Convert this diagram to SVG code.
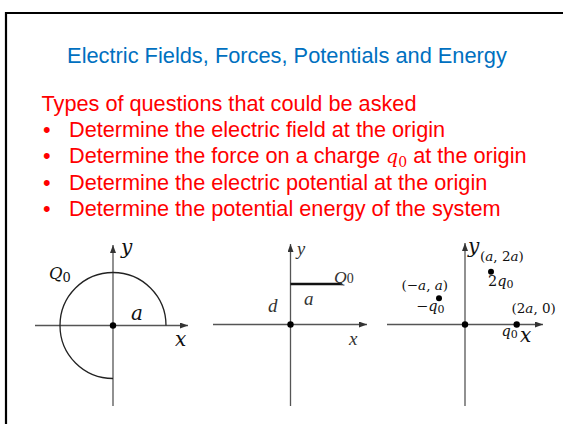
<svg xmlns="http://www.w3.org/2000/svg" width="563" height="424" viewBox="0 0 563 424">
<style>
.axis{stroke:#555;stroke-width:1.3;fill:none}
.curve{stroke:#222;stroke-width:1.3;fill:none}
.dot{fill:#000}
.title{font-family:"Liberation Sans",Arial,sans-serif;font-size:21.8px;fill:#0070C0}
.body{font-family:"Liberation Sans",Arial,sans-serif;font-size:21.7px;fill:#FF0000}
.m{font-family:"DejaVu Serif","Liberation Serif",serif;font-style:italic;fill:#111}
.m2{font-family:"Liberation Serif","Times New Roman",serif;font-style:italic;fill:#333}
.sub{font-style:normal}
</style>
<defs>
<marker id="arr" viewBox="0 0 8 6" refX="8" refY="3" markerWidth="8" markerHeight="6" markerUnits="userSpaceOnUse" orient="auto">
<path d="M0,0 L8,3 L0,6 Z" fill="#333"/>
</marker>
</defs>
<rect width="563" height="424" fill="#fff"/>
<path d="M6,430 V13 H570" fill="none" stroke="#000" stroke-width="2.2"/>
<g id="title"><text class="title" x="287" y="63" text-anchor="middle">Electric Fields, Forces, Potentials and Energy</text></g>
<g id="questions">
<text class="body" x="41.5" y="110.5">Types of questions that could be asked</text>
<text class="body" x="43" y="137">•</text>
<text class="body" x="69" y="137">Determine the electric field at the origin</text>
<text class="body" x="43" y="163.3">•</text>
<text class="body" x="69" y="163.3">Determine the force on a charge <tspan font-family="DejaVu Serif,serif" font-style="italic" font-size="19">q</tspan><tspan font-family="DejaVu Serif,serif" font-size="14" dy="4">0</tspan><tspan dy="-4"> at the origin</tspan></text>
<text class="body" x="43" y="189.6">•</text>
<text class="body" x="69" y="189.6">Determine the electric potential at the origin</text>
<text class="body" x="43" y="216">•</text>
<text class="body" x="69" y="216">Determine the potential energy of the system</text>
</g>
<g id="connectors">
<line class="axis" x1="35" y1="325.5" x2="188" y2="325.5" marker-end="url(#arr)"/>
<line class="axis" x1="113" y1="406" x2="113" y2="245" marker-end="url(#arr)"/>
<line class="axis" x1="213" y1="324.5" x2="367" y2="324.5" marker-end="url(#arr)"/>
<line class="axis" x1="290.5" y1="406" x2="290.5" y2="244" marker-end="url(#arr)"/>
<line class="axis" x1="387" y1="324.5" x2="543" y2="324.5" marker-end="url(#arr)"/>
<line class="axis" x1="465" y1="406" x2="465" y2="243" marker-end="url(#arr)"/>
</g>
<g id="fig1">
<path class="curve" d="M166,325.5 A53,53 0 1 0 113,378.5"/>
<circle class="dot" cx="113" cy="325.5" r="3.2"/>
<text class="m" x="121" y="254" font-size="20">y</text>
<text class="m" x="49" y="279" font-size="16.5">Q<tspan class="sub" font-size="13" dy="3">0</tspan></text>
<text class="m" x="131" y="320" font-size="20">a</text>
<text class="m" x="175" y="346" font-size="20">x</text>
</g>
<g id="fig2">
<line x1="290.5" y1="284" x2="342" y2="284" stroke="#111" stroke-width="2.4"/>
<circle class="dot" cx="290.5" cy="324.5" r="3.2"/>
<text class="m2" x="297" y="255" font-size="18.5">y</text>
<text class="m2" x="334" y="283" font-size="17.5">Q<tspan class="sub" font-size="14">0</tspan></text>
<text class="m2" x="304" y="305" font-size="19">a</text>
<text class="m2" x="268" y="312" font-size="19">d</text>
<text class="m2" x="349" y="345" font-size="19">x</text>
</g>
<g id="fig3">
<circle class="dot" cx="465" cy="324.5" r="3.2"/>
<circle class="dot" cx="439" cy="298.3" r="3"/>
<circle class="dot" cx="491" cy="271.7" r="3"/>
<circle class="dot" cx="516.7" cy="324.5" r="3.2"/>
<text class="m" x="468" y="253" font-size="20">y</text>
<text class="m" x="401.5" y="290" font-size="13.5"><tspan class="sub">(−</tspan>a<tspan class="sub">, </tspan>a<tspan class="sub">)</tspan></text>
<text class="m" x="416" y="311" font-size="14.5"><tspan class="sub">−</tspan>q<tspan class="sub" font-size="11" dy="2">0</tspan></text>
<text class="m" x="480" y="261" font-size="13.5"><tspan class="sub">(</tspan>a<tspan class="sub">, 2</tspan>a<tspan class="sub">)</tspan></text>
<text class="m" x="488" y="286" font-size="14.5"><tspan class="sub">2</tspan>q<tspan class="sub" font-size="11" dy="2">0</tspan></text>
<text class="m" x="511.5" y="313" font-size="13.5"><tspan class="sub">(2</tspan>a<tspan class="sub">, 0)</tspan></text>
<text class="m" x="501.5" y="336" font-size="14.5">q<tspan class="sub" font-size="11" dy="2">0</tspan></text>
<text class="m" x="520" y="342" font-size="20">x</text>
</g>
</svg>
